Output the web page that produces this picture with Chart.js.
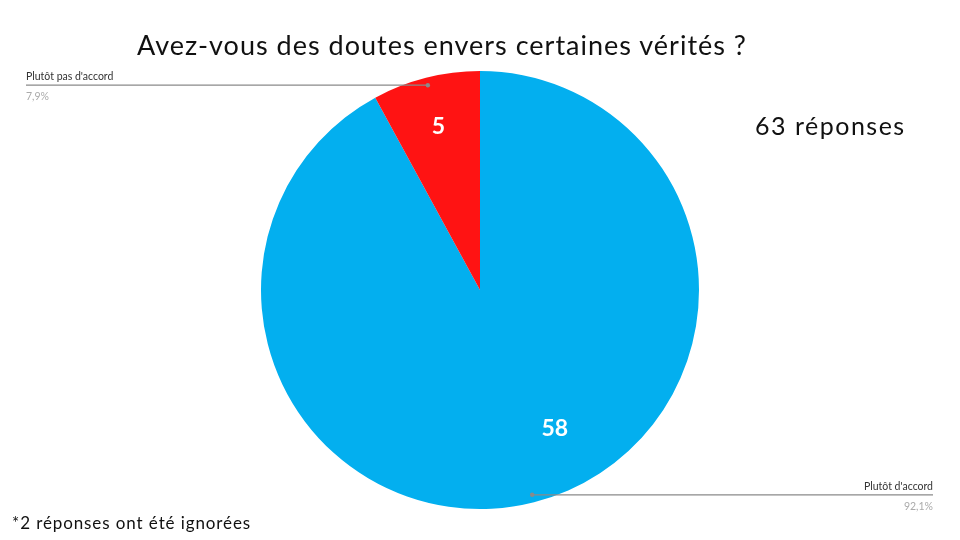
<!DOCTYPE html>
<html lang="fr">
<head>
<meta charset="utf-8">
<title>Avez-vous des doutes envers certaines vérités ?</title>
<script src="https://cdn.jsdelivr.net/npm/chart.js@4.4.0/dist/chart.umd.min.js"></script>
<style>
  html, body { margin: 0; padding: 0; background: #fff; }
  body { width: 960px; height: 540px; position: relative; overflow: hidden; font-family: Lato, "Noto Sans", sans-serif; }
  #wrap { position: absolute; left: 0; top: 0; width: 960px; height: 540px; }
  .txt { position: absolute; color: #111; white-space: nowrap; }
  #titre { left: 137px; top: 28px; font-size: 27px; letter-spacing: 1px; }
  #total { left: 755px; top: 110px; font-size: 25px; letter-spacing: 1.5px; }
  #note { left: 12px; top: 512px; font-size: 17px; letter-spacing: 0.9px; }
</style>
</head>
<body>
<div id="wrap"><canvas id="graphique"></canvas></div>
<div class="txt" id="titre">Avez-vous des doutes envers certaines vérités ?</div>
<div class="txt" id="total">63 réponses</div>
<div class="txt" id="note">*2 réponses ont été ignorées</div>
<script>
// données
const categories = ["Plutôt d'accord", "Plutôt pas d'accord"];
const valeurs = [58, 5];
const pourcentages = ["92,1%", "7,9%"];
const couleurs = ["#03AFEF", "#FF1313"];

/* étiquettes : valeur dans la part + ligne de rappel vers le bord */
const etiquettesPie = {
  id: "etiquettesPie",
  afterDatasetsDraw(chart, args, opts) {
    const ctx = chart.ctx;
    const meta = chart.getDatasetMeta(0);
    meta.data.forEach((arc, i) => {
      const p = arc.getProps(["x", "y", "startAngle", "endAngle", "outerRadius"], true);
      const mid = (p.startAngle + p.endAngle) / 2;

      // valeur (blanc, gras)
      const lp = opts.valeur[i];
      const a = mid + (lp.shift * Math.PI) / 180;
      ctx.save();
      ctx.fillStyle = "#fff";
      ctx.font = "bold 23px Lato, 'Noto Sans', sans-serif";
      ctx.textAlign = "center";
      ctx.textBaseline = "middle";
      ctx.fillText(String(valeurs[i]), p.x + Math.cos(a) * p.outerRadius * lp.frac, p.y + Math.sin(a) * p.outerRadius * lp.frac);

      // ligne de rappel
      const dx = p.x + Math.cos(mid) * p.outerRadius * 0.965;
      const dy = p.y + Math.sin(mid) * p.outerRadius * 0.965;
      const droite = Math.cos(mid) > 0;
      const xFin = droite ? chart.width - 27 : 26;
      ctx.strokeStyle = "#8a8a8a";
      ctx.lineWidth = 1.2;
      ctx.beginPath();
      ctx.moveTo(dx, dy);
      ctx.lineTo(xFin, dy);
      ctx.stroke();
      ctx.fillStyle = "#8a8a8a";
      ctx.beginPath();
      ctx.arc(dx, dy, 2.2, 0, Math.PI * 2);
      ctx.fill();

      ctx.textAlign = droite ? "right" : "left";
      ctx.textBaseline = "alphabetic";
      ctx.font = "10.5px Lato, 'Noto Sans', sans-serif";
      ctx.fillStyle = "#333";
      ctx.fillText(categories[i], xFin, dy - 5);
      ctx.fillStyle = "#aaa";
      ctx.fillText(pourcentages[i], xFin, dy + 15);
      ctx.restore();
    });
  },
};

document.addEventListener("DOMContentLoaded", () => {
  new Chart(document.getElementById("graphique"), {
    type: "pie",
    data: {
      labels: categories,
      datasets: [
        {
          data: valeurs,
          backgroundColor: couleurs,
          borderWidth: 0,
        },
      ],
    },
    options: {
      responsive: true,
      maintainAspectRatio: false,
      animation: false,
      layout: { padding: { top: 71, bottom: 31, left: 0, right: 0 } },
      plugins: {
        legend: { display: false },
        tooltip: { enabled: false },
        etiquettesPie: {
          valeur: [
            { frac: 0.72, shift: -14 },
            { frac: 0.77, shift: 0 },
          ],
        },
      },
    },
    plugins: [etiquettesPie],
  });
});
</script>
</body>
</html>
